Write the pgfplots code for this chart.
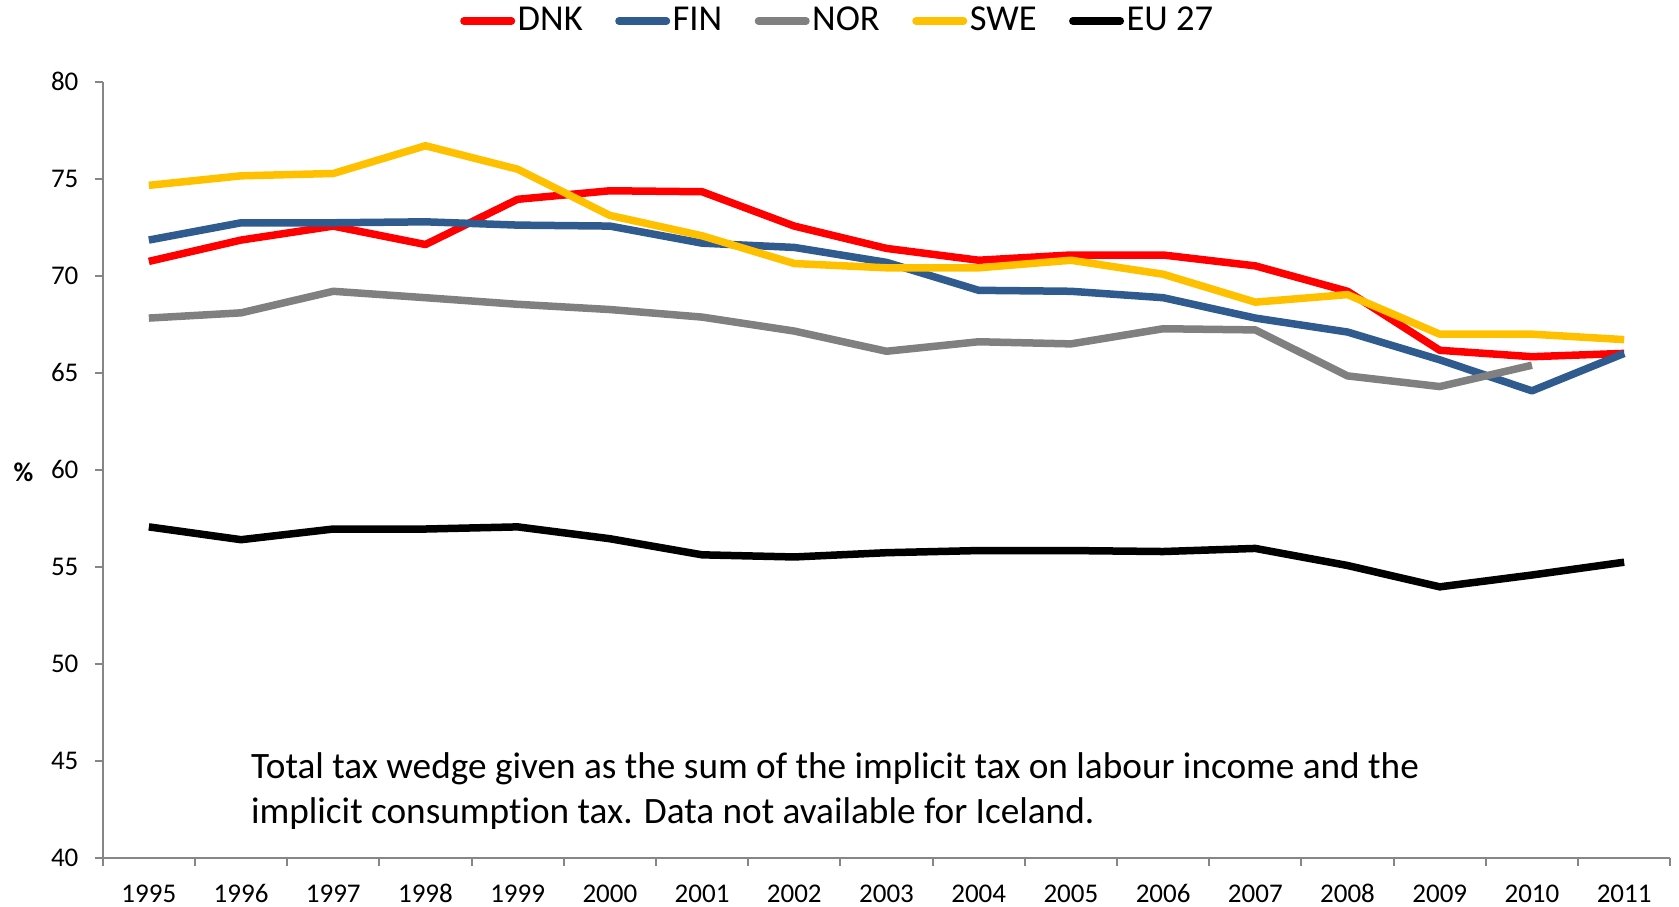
\documentclass[border=0pt]{standalone}
\usepackage{fontspec}
\setmainfont{Carlito}[Ligatures=NoCommon]
\usepackage{pgfplots}
\pgfplotsset{compat=1.18}
\usetikzlibrary{calc}

\definecolor{dnk}{HTML}{FF0000}
\definecolor{fin}{HTML}{2F5B8F}
\definecolor{nor}{HTML}{808080}
\definecolor{swe}{HTML}{FFC000}
\definecolor{axgray}{HTML}{868686}

\begin{document}
\begin{tikzpicture}
\begin{axis}[
  scale only axis,
  width=627pt, height=310.5pt,
  xmin=-0.5, xmax=16.5,
  ymin=40, ymax=80,
  ytick={40,45,...,80},
  xtick={-0.5,0.5,...,16.5},
  xticklabels={1995,1996,1997,1998,1999,2000,2001,2002,2003,2004,2005,2006,2007,2008,2009,2010,2011,{}},
  x tick label style={xshift=18.44pt, yshift=-4pt, text height=7pt, text depth=0pt},
  y tick label style={xshift=-3pt},
  axis x line*=bottom, axis y line*=left,
  axis line style={draw=axgray, line width=0.8pt},
  tick style={draw=axgray, line width=0.8pt},
  tick align=outside,
  major tick length=3.2pt,
  tick label style={font=\fontsize{10.8}{12}\selectfont},
  /pgf/number format/assume math mode=true,
  legend style={draw=none, fill=none, at={(0.469,1.078)}, anchor=center,
    font=\fontsize{14.6}{16}\selectfont,
    /tikz/every odd column/.append style={column sep=0pt},
    /tikz/every even column/.append style={column sep=12pt},
    nodes={inner xsep=1pt}},
  legend columns=-1,
  legend image code/.code={\draw[#1, line cap=round] (0pt,0pt) -- (19pt,0pt);},
  every axis plot/.append style={line width=3pt, line join=round},
  clip=false,
]
\addplot[dnk] coordinates {
  (0,70.73) (1,71.83) (2,72.55) (3,71.60) (4,73.93) (5,74.37) (6,74.32) (7,72.55)
  (8,71.40) (9,70.79) (10,71.06) (11,71.06) (12,70.50) (13,69.19) (14,66.15) (15,65.82) (16,65.99)
};
\addplot[fin] coordinates {
  (0,71.83) (1,72.72) (2,72.72) (3,72.77) (4,72.60) (5,72.55) (6,71.67) (7,71.45)
  (8,70.68) (9,69.24) (10,69.19) (11,68.86) (12,67.81) (13,67.09) (14,65.66) (15,64.06) (16,65.99)
};
\addplot[nor] coordinates {
  (0,67.81) (1,68.08) (2,69.19) (3,68.86) (4,68.52) (5,68.25) (6,67.86) (7,67.14)
  (8,66.10) (9,66.59) (10,66.48) (11,67.26) (12,67.20) (13,64.83) (14,64.28) (15,65.38)
};
\addplot[swe] coordinates {
  (0,74.65) (1,75.14) (2,75.26) (3,76.69) (4,75.48) (5,73.10) (6,72.05) (7,70.62)
  (8,70.40) (9,70.40) (10,70.79) (11,70.07) (12,68.63) (13,69.02) (14,66.98) (15,66.98) (16,66.70)
};
\addplot[black] coordinates {
  (0,57.05) (1,56.39) (2,56.94) (3,56.94) (4,57.05) (5,56.44) (6,55.61) (7,55.50)
  (8,55.72) (9,55.83) (10,55.83) (11,55.78) (12,55.94) (13,55.06) (14,53.96) (15,54.57) (16,55.23)
};
\legend{DNK,FIN,NOR,SWE,EU 27}
\node[anchor=west, align=left, font=\fontsize{14.9}{18}\selectfont, inner sep=0pt]
  at (axis cs:1.103,43.42) {Total tax wedge given as the sum of the implicit tax on labour income and the\\implicit consumption tax. Data not available for Iceland.};
\node[font=\fontsize{10.8}{12}\selectfont\bfseries] at (rel axis cs:-0.0505,0.497) {\%};
\coordinate (ll) at (rel axis cs:0,0);
\end{axis}
\pgfresetboundingbox
\path ($(ll)+(-41.1pt,-19.3pt)$) rectangle ++(671.6pt,362.4pt);
\end{tikzpicture}
\end{document}
